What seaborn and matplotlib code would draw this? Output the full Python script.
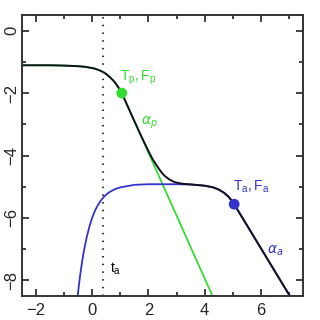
import matplotlib
matplotlib.use("Agg")
import matplotlib.pyplot as plt
import seaborn as sns
import pandas as pd
from matplotlib.ticker import MultipleLocator

# ---- data (log t, log flux) ----
prompt_x = [-2.5, -1.5, -1.0, -0.5, -0.25, 0.0, 0.1, 0.25, 0.35, 0.45, 0.55, 0.65,
            0.75, 0.8, 0.85, 0.9, 0.95, 1.0, 1.05, 4.28]
prompt_y = [-1.11, -1.11, -1.12, -1.14, -1.16, -1.20, -1.22, -1.27, -1.31, -1.36,
            -1.43, -1.51, -1.60, -1.655, -1.71, -1.78, -1.85, -1.92, -2.0, -8.5]

after_x = [-0.52, -0.5, -0.45, -0.4, -0.35, -0.3, -0.2, -0.1, 0.0, 0.1, 0.2, 0.3,
           0.4, 0.5, 0.6, 0.8, 1.0, 1.5, 2.0, 3.0, 3.5, 4.0, 4.3, 4.5, 4.7,
           4.85, 4.95, 5.05, 7.1]
after_y = [-8.51, -8.35, -7.97, -7.64, -7.34, -7.07, -6.63, -6.27, -5.99, -5.76,
           -5.59, -5.45, -5.34, -5.25, -5.18, -5.08, -5.02, -4.94, -4.92, -4.92,
           -4.93, -4.97, -5.02, -5.09, -5.20, -5.32, -5.43, -5.56, -8.6]

total_x = [-2.5, -1.5, -1.0, -0.5, -0.25, 0.0, 0.1, 0.25, 0.35, 0.45, 0.55, 0.65,
           0.75, 0.8, 0.85, 0.9, 0.95, 1.0, 1.05, 1.5, 1.75, 2.0, 2.15, 2.3, 2.4,
           2.5, 2.6, 2.75, 2.9, 3.0, 3.25, 3.5, 4.0, 4.3, 4.5, 4.7, 4.85, 4.95,
           5.05, 7.1]
total_y = [-1.11, -1.11, -1.12, -1.14, -1.16, -1.20, -1.22, -1.27, -1.31, -1.36,
           -1.43, -1.51, -1.60, -1.655, -1.71, -1.78, -1.85, -1.92, -2.0, -2.90,
           -3.39, -3.86, -4.12, -4.33, -4.46, -4.58, -4.67, -4.77, -4.84, -4.87,
           -4.91, -4.925, -4.965, -5.02, -5.09, -5.20, -5.32, -5.43, -5.56, -8.6]

Tp, Fp = 1.05, -2.0
Ta, Fa = 5.05, -5.56
t_a = 0.4

green = "#33dd33"
blue = "#3333cc"

sns.set_style("ticks")
plt.rcParams["font.family"] = ["Liberation Sans", "DejaVu Sans"]
plt.rcParams["mathtext.fontset"] = "dejavusans"

fig = plt.figure(figsize=(3.2, 3.2), dpi=100)
ax = fig.add_axes([22/320, 24/320, 281/320, 281/320])

dp = pd.DataFrame({"x": prompt_x, "y": prompt_y})
da = pd.DataFrame({"x": after_x, "y": after_y})
dt = pd.DataFrame({"x": total_x, "y": total_y})

sns.lineplot(data=dp, x="x", y="y", ax=ax, color=green, lw=1.3, sort=False)
sns.lineplot(data=da, x="x", y="y", ax=ax, color=blue, lw=1.3, sort=False)
sns.lineplot(data=dt, x="x", y="y", ax=ax, color="#111122", lw=1.4, sort=False)

ax.axvline(t_a, color="#333333", lw=1.5, linestyle=(0, (0.7, 3.0)))

sns.scatterplot(x=[Tp], y=[Fp], ax=ax, color=green, s=60, edgecolor="none", zorder=5)
sns.scatterplot(x=[Ta], y=[Fa], ax=ax, color=blue, s=60, edgecolor="none", zorder=5)

ax.text(1.0, -1.5, r"$\mathregular{T_p,F_p}$", color=green, fontsize=10, ha="left", va="center")
ax.text(1.72, -2.96, r"$\alpha_p$", color=green, fontsize=10, ha="left", va="center")
ax.text(5.0, -5.0, r"$\mathregular{T_a,F_a}$", color=blue, fontsize=10, ha="left", va="center")
ax.text(6.22, -7.06, r"$\alpha_a$", color=blue, fontsize=10, ha="left", va="center")
ax.text(0.62, -7.63, r"$\mathregular{t_a}$", color="black", fontsize=10, ha="left", va="center")

ax.set_xlim(-2.5, 7.5)
ax.set_ylim(-8.5, 0.5)
ax.xaxis.set_major_locator(MultipleLocator(2))
ax.xaxis.set_minor_locator(MultipleLocator(1))
ax.yaxis.set_major_locator(MultipleLocator(2))
ax.yaxis.set_minor_locator(MultipleLocator(1))
ax.tick_params(which="both", direction="in", top=True, right=True, width=1.3, color="#333333")
ax.tick_params(which="major", length=5, labelsize=12)
ax.tick_params(axis="x", which="major", pad=5)
ax.tick_params(axis="y", which="major", pad=2)
ax.tick_params(which="minor", length=3)
for lab in ax.get_yticklabels():
    lab.set_rotation(90)
    lab.set_va("center")
for s in ax.spines.values():
    s.set_linewidth(1.4)
    s.set_color("#333333")
ax.set_xlabel("")
ax.set_ylabel("")

fig.savefig("out.png", dpi=100)
